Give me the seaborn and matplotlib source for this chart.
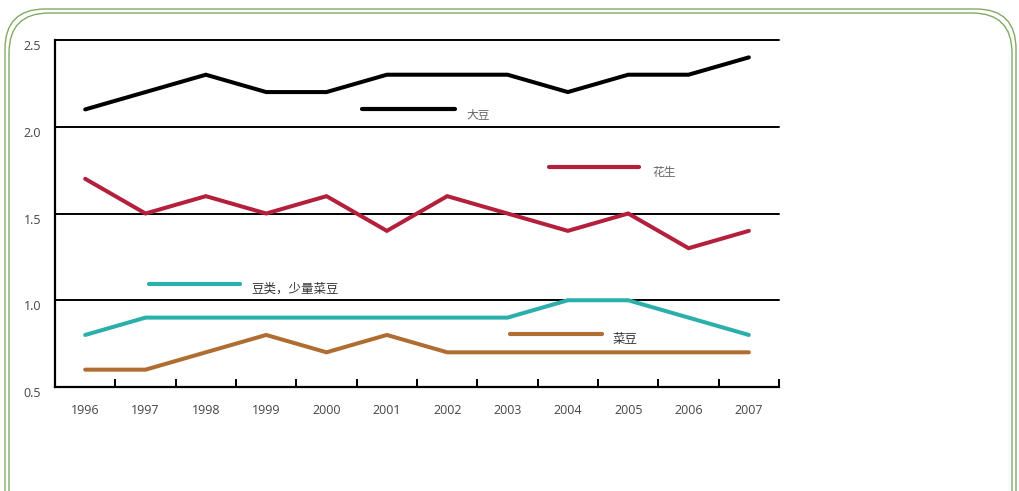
import matplotlib
matplotlib.use("Agg")
import matplotlib.pyplot as plt
from matplotlib.patches import FancyBboxPatch
from matplotlib.ticker import FixedLocator
import pandas as pd
import seaborn as sns

years = list(range(1996, 2008))
dadou = [2.1, 2.2, 2.3, 2.2, 2.2, 2.3, 2.3, 2.3, 2.2, 2.3, 2.3, 2.4]
huasheng = [1.7, 1.5, 1.6, 1.5, 1.6, 1.4, 1.6, 1.5, 1.4, 1.5, 1.3, 1.4]
doulei = [0.8, 0.9, 0.9, 0.9, 0.9, 0.9, 0.9, 0.9, 1.0, 1.0, 0.9, 0.8]
caidou = [0.6, 0.6, 0.7, 0.8, 0.7, 0.8, 0.7, 0.7, 0.7, 0.7, 0.7, 0.7]
names = ["大豆", "花生", "豆类，少量菜豆", "菜豆"]
yticks = [0.5, 1.0, 1.5, 2.0, 2.5]

colors = {"大豆": "#000000", "花生": "#b41f3c", "豆类，少量菜豆": "#2aafab", "菜豆": "#b06d31"}

df = pd.DataFrame({
    "year": years * 4,
    "value": dadou + huasheng + doulei + caidou,
    "crop": sum([[n] * len(years) for n in names], []),
})

sns.set_style("white")
plt.rcParams["font.family"] = ["Open Sans", "Noto Sans CJK SC", "DejaVu Sans"]

fig = plt.figure(figsize=(10.19, 4.91), dpi=100)
ax = fig.add_axes([0.054, 0.2118, 0.7105, 0.7067])

sns.lineplot(data=df, x="year", y="value", hue="crop", palette=colors,
             linewidth=2.9, legend=False, ax=ax)
for ln in ax.get_lines():
    ln.set_solid_capstyle("round")
    ln.set_solid_joinstyle("miter")

ax.set_xlim(1995.5, 2007.5)
ax.set_ylim(0.5, 2.5)
ax.set_xlabel(""); ax.set_ylabel("")

ax.set_xticks(years)
ax.set_xticklabels([str(y) for y in years])
ax.xaxis.set_minor_locator(FixedLocator([y + 0.5 for y in years]))
ax.tick_params(axis="x", which="major", length=0, pad=12.5, labelsize=9, labelcolor="#444444")
ax.tick_params(axis="x", which="minor", bottom=True, direction="in", length=6, width=1.4, color="black")
ax.set_yticks(yticks)
ax.set_yticklabels([f"{v:.1f}" for v in yticks])
ax.tick_params(axis="y", length=0, pad=10, labelsize=9, labelcolor="#444444")
for lab in ax.get_yticklabels():
    lab.set_va("top")

ax.yaxis.grid(True, color="black", linewidth=1.4)
for gl in ax.get_ygridlines():
    gl.set_clip_on(False)
ax.xaxis.grid(False)

for side in ["top", "right"]:
    ax.spines[side].set_visible(False)
for side in ["left", "bottom"]:
    ax.spines[side].set_color("black")
    ax.spines[side].set_linewidth(1.6)

# inline legend keys (axes fraction)
keys = [
    ("大豆", (0.424, 0.5525), 0.801, (0.5677, 0.784), "#666666", 8.5),
    ("花生", (0.682, 0.8066), 0.634, (0.8246, 0.619), "#666666", 8.5),
    ("豆类，少量菜豆", (0.1298, 0.2555), 0.297, (0.2707, 0.282), "#333333", 9),
    ("菜豆", (0.6285, 0.7555), 0.1527, (0.7707, 0.136), "#333333", 9),
]
for name, (x0, x1), yk, (tx, ty), tc, fs in keys:
    ax.plot([x0, x1], [yk, yk], transform=ax.transAxes, color=colors[name],
            linewidth=3, solid_capstyle="round", clip_on=False)
    ax.text(tx, ty, name, transform=ax.transAxes, color=tc, fontsize=fs,
            va="center", ha="left", family=["Noto Sans CJK SC", "DejaVu Sans"],
            fontweight="light" if tc == "#666666" else "normal")

# rounded double border
W, H = 1019, 491
for pad in [0.0, 4.0]:
    x0, y0 = 5 + pad, -40
    box = FancyBboxPatch((x0 / W, y0 / H), (1011 - 2 * pad) / W, (H - 9 - pad - y0) / H,
                         boxstyle=f"round,pad=0,rounding_size={40 / W}",
                         transform=fig.transFigure, fill=False,
                         edgecolor="#82aa62", linewidth=1.0, mutation_aspect=W / H)
    fig.patches.append(box)

fig.savefig("out.png", dpi=100)
